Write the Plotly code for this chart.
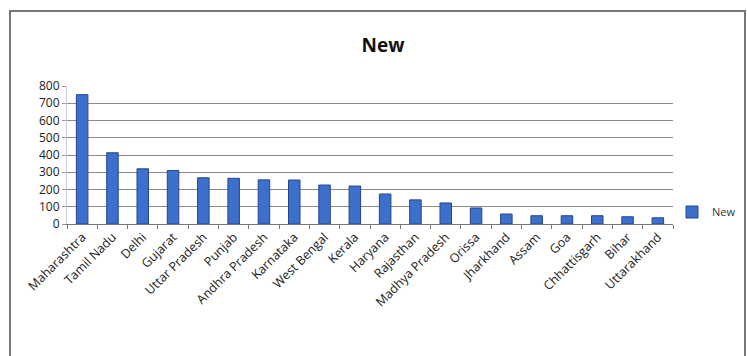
import plotly.graph_objects as go

states = ["Maharashtra", "Tamil Nadu", "Delhi", "Gujarat", "Uttar Pradesh", "Punjab",
          "Andhra Pradesh", "Karnataka", "West Bengal", "Kerala", "Haryana", "Rajasthan",
          "Madhya Pradesh", "Orissa", "Jharkhand", "Assam", "Goa", "Chhattisgarh",
          "Bihar", "Uttarakhand"]
values = [750, 413, 320, 310, 268, 265, 256, 255, 226, 220, 174, 140, 122, 93,
          58, 48, 48, 48, 42, 36]
y_ticks = [0, 100, 200, 300, 400, 500, 600, 700, 800]

W, H = 747, 356
L, R, T, B = 67, 74, 86, 132
pw, ph = W - L - R, H - T - B

fig = go.Figure()
fig.add_trace(go.Bar(
    x=states, y=values, name="New", width=0.38,
    marker=dict(color="#3d6fcc", line=dict(color="#24468f", width=1)),
))

def px(x):
    return (x - L) / pw

def py(y):
    return (H - B - y) / ph

fig.update_layout(
    width=W, height=H,
    margin=dict(l=L, r=R, t=T, b=B, autoexpand=False),
    paper_bgcolor="white", plot_bgcolor="white",
    font=dict(family="Open Sans, Liberation Sans, sans-serif", color="#222"),
    title=dict(text="<b>New</b>", x=383 / W, xanchor="center", y=1 - 45 / H, yanchor="middle",
               font=dict(size=19, color="#111")),
    showlegend=True,
    legend=dict(x=px(672), xanchor="left", y=py(212), yanchor="middle",
                font=dict(size=11, color="#333"), bgcolor="rgba(0,0,0,0)",
                itemwidth=30, tracegroupgap=0),
    bargap=0.6,
    xaxis=dict(tickangle=-45, tickfont=dict(size=12.5, color="#222"), ticks="outside",
               tickson="boundaries", ticklen=4, tickcolor="#777", showline=True,
               linecolor="#777", linewidth=1, showgrid=False),
    yaxis=dict(range=[0, 800], tickvals=y_ticks, tickfont=dict(size=12, color="#222"),
               showgrid=True, gridcolor="#8a8a8a", gridwidth=1, ticks="outside",
               ticklen=4, tickcolor="#999", showline=True, linecolor="#ccc",
               zeroline=False),
    shapes=[dict(type="rect", xref="paper", yref="paper",
                 x0=px(10), x1=px(745), y0=py(358), y1=py(11),
                 line=dict(color="#777", width=2), fillcolor="rgba(0,0,0,0)", layer="below")],
)

fig.write_html("out.html")
